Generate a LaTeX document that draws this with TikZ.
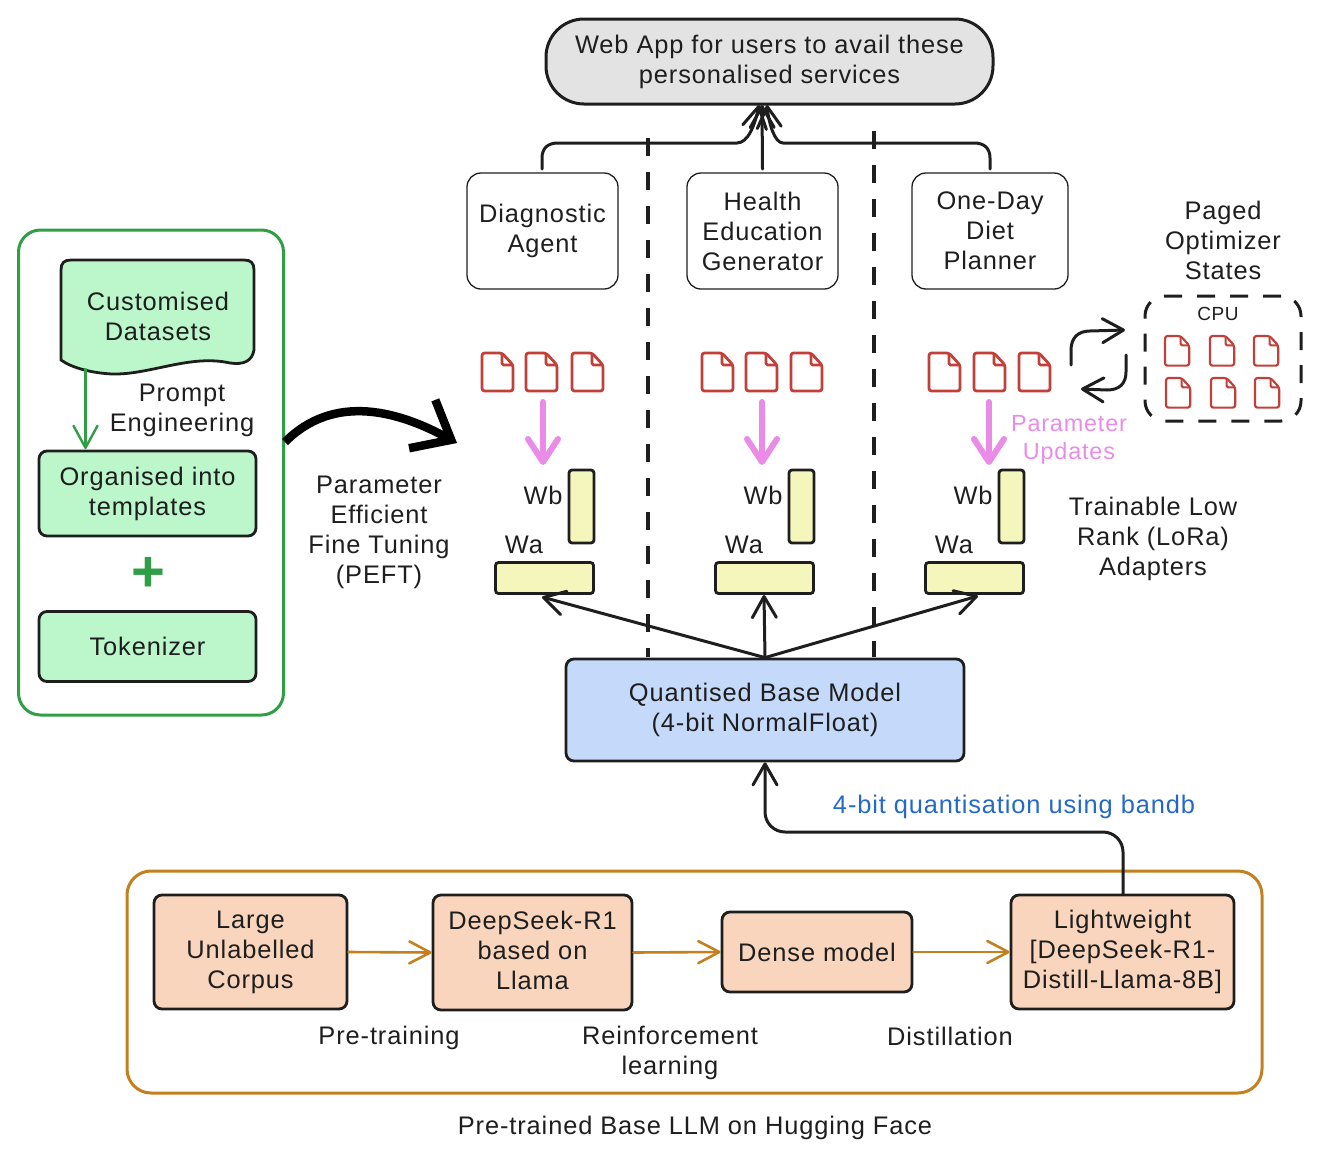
\documentclass[tikz,border=0pt]{standalone}
\usepackage{fontspec}
\setmainfont[LetterSpace=3.5]{Liberation Sans}
\usetikzlibrary{arrows.meta}
\definecolor{ink}{HTML}{1E1E1E}
\definecolor{grn}{HTML}{2F9E44}
\definecolor{grnfill}{HTML}{BBF7CB}
\definecolor{org}{HTML}{C4801F}
\definecolor{orgfill}{HTML}{F8D5BC}
\definecolor{yel}{HTML}{F5F6BC}
\definecolor{bluefill}{HTML}{C5DAFA}
\definecolor{pnk}{HTML}{EA8BE8}
\definecolor{redi}{HTML}{C2403A}
\definecolor{blu}{HTML}{2468C8}
\newcommand{\docshape}[1]{%
 \draw[redi,line width=#1,line join=round,rounded corners=2.5pt] (0,0) -- (20,0) -- (31,12) -- (31,38) -- (0,38) -- cycle;
 \draw[redi,line width=#1,line join=round,rounded corners=1.5pt] (20,0) -- (20,12) -- (31,12);}
\tikzset{
 x=1pt,y=-1pt,
 lbl/.style={inner sep=0pt,align=center,text=ink,font=\fontsize{25.4}{30}\selectfont},
 agent/.style={lbl,draw=ink,line width=1.3pt,rounded corners=14pt},
 thick box/.style={lbl,draw=ink,line width=2.8pt,rounded corners=8pt},
 gbox/.style={thick box,fill=grnfill},
 obox/.style={thick box,fill=orgfill},
 ybox/.style={inner sep=0pt,draw=ink,line width=2.8pt,rounded corners=3pt,fill=yel},
 blk/.style={draw=ink,line width=3pt,line cap=round,-{Straight Barb[length=21pt,width=24pt,round]}},
 org arrow/.style={draw=org,line width=2.6pt,line cap=round,-{Straight Barb[length=21pt,width=22pt,round]}},
 pink arrow/.style={draw=pnk,line width=6pt,line cap=round,-{Straight Barb[length=23pt,width=30pt,round]}},
 sep/.style={draw=ink,line width=3.2pt,dash pattern=on 18pt off 16pt},
 pics/bigdoc/.style={code={\docshape{2.8pt}}},
 pics/smalldoc/.style={code={\docshape{2.2pt}}}
}
\begin{document}
\begin{tikzpicture}
\useasboundingbox (0,0) rectangle (1326,1165);
% separators
\draw[sep] (648,138) -- (648,657);
\draw[sep] (874,131) -- (874,657);
% top
\node[lbl,draw=ink,line width=3pt,fill=black!11,rounded corners=38pt,minimum width=447pt,minimum height=85pt] (web) at (769.5,61.5) {Web App for users to avail these\\personalised services};
\coordinate (webL) at (759,105);
\coordinate (webM) at (762,105);
\coordinate (webR) at (767,105);
\node[agent,minimum width=151pt,minimum height=116pt] (diag) at (542.5,231) {Diagnostic\\Agent};
\node[agent,minimum width=151pt,minimum height=116pt] (hlth) at (762.5,231) {Health\\Education\\Generator};
\node[agent,minimum width=156pt,minimum height=116pt] (diet) at (990,231) {One-Day\\Diet\\Planner};
\draw[blk] (542,169) -- (542,158) .. controls (542,148) and (548,143) .. (558,143) -- (737,143) .. controls (748,143) and (755,125) .. (webL);
\draw[blk] (hlth.north |- 0,169) -- (webM);
\draw[blk] (990,169) -- (990,158) .. controls (990,148) and (984,143) .. (974,143) -- (783,143) .. controls (775,143) and (769,125) .. (webR);
% left panel
\node[draw=grn,line width=3pt,rounded corners=22pt,minimum width=265pt,minimum height=485pt,inner sep=0pt] (panel) at (151,472.5) {};
\path[draw=ink,line width=2.8pt,fill=grnfill] (61,358) -- (61,270) .. controls (61,263) and (64,260) .. (71,260) -- (244,260) .. controls (251,260) and (254,263) .. (254,270) -- (254,350) .. controls (252,361) and (244,365) .. (230,363) .. controls (190,354) and (150,375) .. (112,374) .. controls (92,373) and (72,368) .. (61,360) -- cycle;
\node[lbl] (cust) at (158,316) {Customised\\Datasets};
\coordinate (custB) at (85.5,369);
\node[lbl] (prompt) at (182,410) {Prompt\\Engineering};
\node[gbox,minimum width=217pt,minimum height=85pt] (org) at (147.5,493.5) {Organised into\\templates};
\coordinate (orgT) at (85.5,449);
\draw[draw=grn,line width=2.4pt,line cap=round,-{Straight Barb[length=22pt,width=24pt,round]}] (custB) -- (orgT);
\node[text=grn,inner sep=0pt,font=\fontsize{58}{58}\selectfont\bfseries] (plus) at (148,574) {+};
\node[gbox,minimum width=217pt,minimum height=70pt] (tok) at (147.5,646.5) {Tokenizer};
% big arrow
\coordinate (bigS) at (286,442);
\coordinate (bigE) at (457,443);
\draw[draw=black,line width=8.5pt,-{Straight Barb[length=33pt,width=55pt]}] (panel.east |- bigS) .. controls (335,392) and (400,412) .. (bigE);
\node[lbl] (peft) at (379,532) {Parameter\\Efficient\\Fine Tuning\\(PEFT)};
% docs
\foreach \px in {482,526,572,702,746,791,929,974,1019}{\pic at (\px,353) {bigdoc};}
\foreach \px/\py in {1165/336,1210/336,1254/336,1166/378,1211/378,1255/378}{\pic[scale=.78] at (\px,\py) {smalldoc};}
% adapters
\foreach \n/\wx/\ax in {A/581.5/544.5,B/801.5/764.5,C/1011.5/974.5}{
 \node[ybox,minimum width=25pt,minimum height=73pt] (wb\n) at (\wx,506.5) {};
 \node[ybox,minimum width=98pt,minimum height=31pt] (wa\n) at (\ax,578) {};
}
\node[lbl] (wblA) at (543,495) {Wb};
\node[lbl] (wblB) at (763,495) {Wb};
\node[lbl] (wblC) at (973,495) {Wb};
\node[lbl] (walA) at (524,545) {Wa};
\node[lbl] (walB) at (744,545) {Wa};
\node[lbl] (walC) at (954,545) {Wa};
\coordinate (pA) at (543,402); \coordinate (qA) at (543,465);
\coordinate (pB) at (762,402); \coordinate (qB) at (762,465);
\coordinate (pC) at (989,402); \coordinate (qC) at (989,465);
\draw[pink arrow] (pA) -- (qA);
\draw[pink arrow] (pB) -- (qB);
\draw[pink arrow] (pC) -- (qC);
\node[lbl,text=pnk,font=\fontsize{23.4}{28}\selectfont] (upd) at (1069,440) {Parameter\\Updates};
\node[lbl] (lora) at (1153,539) {Trainable Low\\Rank (LoRa)\\Adapters};
% cpu
\node[lbl] (paged) at (1223,240) {Paged\\Optimizer\\States};
\node[draw=ink,line width=3pt,dash pattern=on 18pt off 15pt,rounded corners=20pt,minimum width=156pt,minimum height=125pt,inner sep=0pt] (cpu) at (1223,358.5) {};
\node[lbl,font=\fontsize{19}{24}\selectfont] (cputxt) at (1218,314) {CPU};
\coordinate (c1s) at (1071,365); \coordinate (c1e) at (1125,330);
\coordinate (c2s) at (1126,355); \coordinate (c2e) at (1081,389);
\draw[blk] (c1s) -- (1071,350) .. controls (1071,338) and (1078,331) .. (1090,331) -- (c1e);
\draw[blk] (c2s) -- (1126,372) .. controls (1126,384) and (1119,390) .. (1107,390) -- (c2e);
% base
\node[thick box,fill=bluefill,minimum width=398pt,minimum height=102pt] (base) at (765,710) {Quantised Base Model\\(4-bit NormalFloat)};
\coordinate (waAb) at (542,597);
\coordinate (waBb) at (764,595);
\coordinate (waCb) at (978,596);
\draw[blk] (base.north) -- (waAb);
\draw[blk] (base.north) -- (waBb);
\draw[blk] (base.north) -- (waCb);
% bottom
\node[draw=org,line width=3pt,rounded corners=24pt,minimum width=1135pt,minimum height=222pt,inner sep=0pt] (pre) at (694.5,982) {};
\node[obox,minimum width=193pt,minimum height=114pt] (large) at (250.5,952) {Large\\Unlabelled\\Corpus};
\node[obox,minimum width=199pt,minimum height=115pt] (deep) at (532.5,952.5) {DeepSeek-R1\\based on\\Llama\vphantom{p}};
\node[obox,minimum width=190pt,minimum height=80pt] (dense) at (817,952) {Dense model};
\node[obox,minimum width=223pt,minimum height=114pt] (light) at (1122.5,952) {Lightweight\\{[}DeepSeek-R1-\\Distill-Llama-8B{]}};
\draw[org arrow] (large.east) -- (deep.west);
\draw[org arrow] (deep.east) -- (dense.west);
\draw[org arrow] (dense.east) -- (light.west);
\draw[blk,rounded corners=20pt] (light.north -| 1123,0) -- (1123,832) -- (765,832) -- (base.south -| 765,0);
\node[lbl,text=blu] (quant) at (1014,807) {4-bit quantisation using bandb};
\node[lbl] (ptr) at (389,1038) {Pre-training};
\node[lbl] (rl) at (670,1053) {Reinforcement\\learning};
\node[lbl] (dist) at (950,1036) {Distillation};
\node[lbl] (cap) at (695,1128) {Pre-trained Base LLM on Hugging Face};
\end{tikzpicture}
\end{document}
